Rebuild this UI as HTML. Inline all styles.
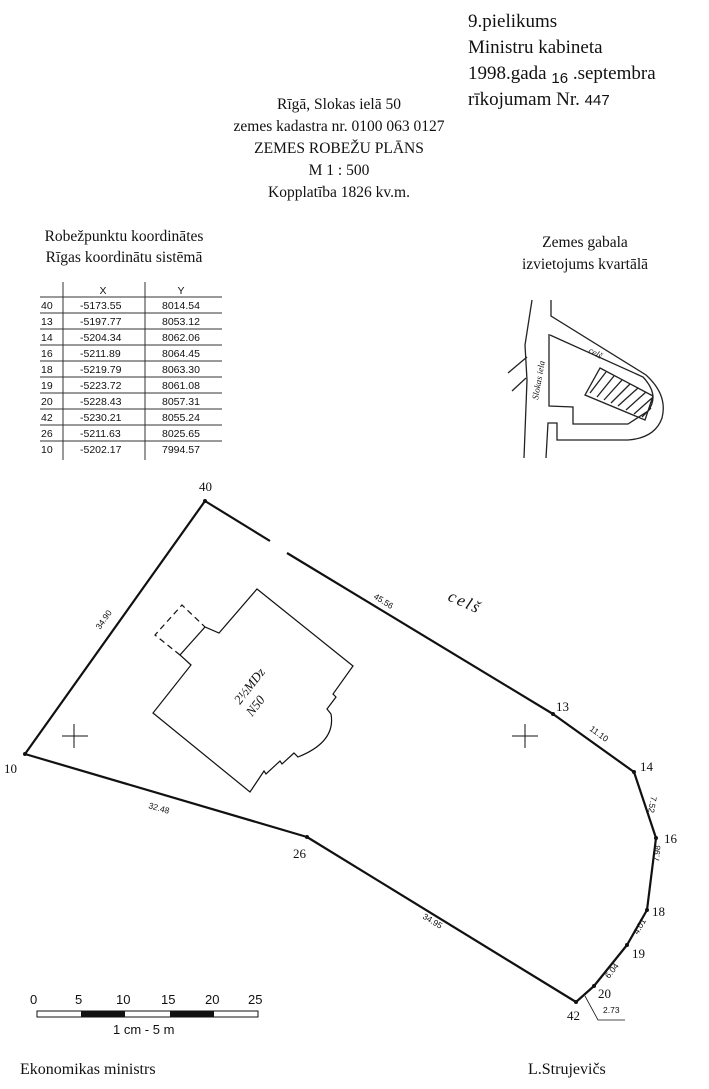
<!DOCTYPE html>
<html><head><meta charset="utf-8"><style>
html,body{margin:0;padding:0;background:#fff;}
svg{display:block;}
.s{font-family:"Liberation Serif",serif;fill:#111;}
.a{font-family:"Liberation Sans",sans-serif;fill:#111;}
</style></head><body>
<svg width="709" height="1089" viewBox="0 0 709 1089" xmlns="http://www.w3.org/2000/svg">
<g class="s" font-size="19">
<text x="468" y="27">9.pielikums</text>
<text x="468" y="53">Ministru kabineta</text>
<text x="468" y="79">1998.gada <tspan class="a" font-size="15" dy="4">16</tspan><tspan dy="-4"> .septembra</tspan></text>
<text x="468" y="105">rīkojumam Nr. <tspan class="a" font-size="15">447</tspan></text>
</g>
<g class="s" font-size="15.5" text-anchor="middle">
<text x="339" y="109">Rīgā, Slokas ielā 50</text>
<text x="339" y="131">zemes kadastra nr. 0100 063 0127</text>
<text x="339" y="153">ZEMES ROBEŽU PLĀNS</text>
<text x="339" y="175">M 1 : 500</text>
<text x="339" y="197">Kopplatība 1826 kv.m.</text>
<text x="124" y="241">Robežpunktu koordinātes</text>
<text x="124" y="262">Rīgas koordinātu sistēmā</text>
<text x="585" y="247">Zemes gabala</text>
<text x="585" y="269">izvietojums kvartālā</text>
</g>
<g stroke="#333" stroke-width="1" fill="none">
<line x1="63" y1="282" x2="63" y2="460"/>
<line x1="145" y1="282" x2="145" y2="460"/>
<line x1="40" y1="297" x2="222" y2="297"/>
<line x1="40" y1="313" x2="222" y2="313"/>
<line x1="40" y1="329" x2="222" y2="329"/>
<line x1="40" y1="345" x2="222" y2="345"/>
<line x1="40" y1="361" x2="222" y2="361"/>
<line x1="40" y1="377" x2="222" y2="377"/>
<line x1="40" y1="393" x2="222" y2="393"/>
<line x1="40" y1="409" x2="222" y2="409"/>
<line x1="40" y1="425" x2="222" y2="425"/>
<line x1="40" y1="441" x2="222" y2="441"/>
</g>
<g class="a" font-size="10.5">
<text x="103" y="294" text-anchor="middle">X</text><text x="181" y="294" text-anchor="middle">Y</text>
<text x="41" y="309">40</text><text x="80" y="309">-5173.55</text><text x="162" y="309">8014.54</text>
<text x="41" y="325">13</text><text x="80" y="325">-5197.77</text><text x="162" y="325">8053.12</text>
<text x="41" y="341">14</text><text x="80" y="341">-5204.34</text><text x="162" y="341">8062.06</text>
<text x="41" y="357">16</text><text x="80" y="357">-5211.89</text><text x="162" y="357">8064.45</text>
<text x="41" y="373">18</text><text x="80" y="373">-5219.79</text><text x="162" y="373">8063.30</text>
<text x="41" y="389">19</text><text x="80" y="389">-5223.72</text><text x="162" y="389">8061.08</text>
<text x="41" y="405">20</text><text x="80" y="405">-5228.43</text><text x="162" y="405">8057.31</text>
<text x="41" y="421">42</text><text x="80" y="421">-5230.21</text><text x="162" y="421">8055.24</text>
<text x="41" y="437">26</text><text x="80" y="437">-5211.63</text><text x="162" y="437">8025.65</text>
<text x="41" y="453">10</text><text x="80" y="453">-5202.17</text><text x="162" y="453">7994.57</text>
</g>
<g stroke="#222" stroke-width="1.3" fill="none">
<path d="M532,300 L525,345 L527,380 L524,458"/>
<path d="M551,300 L551,316 L646,375 Q668,395 662,418 Q655,438 628,440 L557,440 L557,423 L548,423 L546,458"/>
<path d="M508,373 L527,357"/>
<path d="M512,391 L526,378"/>
<path d="M549,334 L549,406 L573,407 L573,424 L628,424 L648,411 Q660,395 643,377 L550,335"/>
<path d="M600,368 L653,396 L645,420 L585,395 Z"/>
<path d="M606,372 L590,393 M614,376 L597,397 M622,380 L604,400 M630,384 L611,403 M638,388 L618,406 M646,392 L626,410 M652,398 L634,414 M651,408 L642,417"/>
</g>
<text class="s" font-size="9" font-style="italic" transform="translate(588,352) rotate(30)">celš</text>
<text class="s" font-size="9" font-style="italic" transform="translate(538,400) rotate(-80)">Slokas iela</text>
<g stroke="#111" stroke-width="2.2" fill="none" stroke-linejoin="round">
<path d="M270,541 L205,501 L25,754 L307,837 L576,1002 L594,986 L627,945 L647,910 L656,838 L634,772 L553,714 L287,553"/>
</g>
<g fill="#111"><circle cx="205" cy="501" r="2"/><circle cx="25" cy="754" r="2"/><circle cx="307" cy="837" r="2"/><circle cx="576" cy="1002" r="2"/><circle cx="594" cy="986" r="2"/><circle cx="627" cy="945" r="2"/><circle cx="647" cy="910" r="2"/><circle cx="656" cy="838" r="2"/><circle cx="634" cy="772" r="2"/><circle cx="553" cy="714" r="2"/></g>
<g stroke="#111" stroke-width="1.2" fill="none">
<path d="M257,589 L353,666 L333,694 L336,697 L327,709 L331,714 Q336,742 298,757 L294,753 L282,764 L280,761 L266,774 L264,771 L250,792 L153,713 L191,665 L180,655 L205,627 L219,633 Z"/>
<path d="M180,655 L155,635 L182,605 L205,627" stroke-dasharray="6,4"/>
</g>
<text class="s" font-size="13" font-style="italic" transform="translate(240,705) rotate(-52)">2½MDz</text>
<text class="s" font-size="13" font-style="italic" transform="translate(252,717) rotate(-52)">N50</text>
<g stroke="#111" stroke-width="1"><line x1="62" y1="736" x2="88" y2="736"/><line x1="74" y1="724" x2="74" y2="748"/><line x1="512" y1="736" x2="538" y2="736"/><line x1="525" y1="724" x2="525" y2="748"/></g>
<g class="s" font-size="13">
<text x="199" y="491">40</text><text x="4" y="773">10</text><text x="293" y="858">26</text>
<text x="556" y="711">13</text><text x="640" y="771">14</text><text x="664" y="843">16</text>
<text x="652" y="916">18</text><text x="632" y="958">19</text><text x="598" y="998">20</text><text x="567" y="1020">42</text>
</g>
<g class="a" font-size="8.5">
<text transform="translate(100,630) rotate(-55)">34.90</text>
<text transform="translate(373,598) rotate(32)">45.56</text>
<text transform="translate(148,808) rotate(16)">32.48</text>
<text transform="translate(422,918) rotate(31)">34.95</text>
<text transform="translate(589,730) rotate(36)">11.10</text>
<text transform="translate(651,796) rotate(100)">7.52</text>
<text transform="translate(659,862) rotate(-85)">7.98</text>
<text transform="translate(638,935) rotate(-60)">4.01</text>
<text transform="translate(609,979) rotate(-52)">6.04</text>
<text x="603" y="1013">2.73</text>
</g>
<path d="M585,996 L598,1020 L625,1020" stroke="#111" stroke-width="0.8" fill="none"/>
<text class="s" font-size="17" font-style="italic" transform="translate(447,600) rotate(24)" letter-spacing="2">celš</text>
<g class="a" font-size="13">
<text x="30" y="1004">0</text><text x="75" y="1004">5</text><text x="116" y="1004">10</text><text x="161" y="1004">15</text><text x="205" y="1004">20</text><text x="248" y="1004">25</text>
<text x="113" y="1034">1 cm - 5 m</text>
</g>
<rect x="37" y="1011" width="221" height="6" fill="#fff" stroke="#111" stroke-width="1"/>
<rect x="81" y="1011" width="44" height="6" fill="#111"/>
<rect x="170" y="1011" width="44" height="6" fill="#111"/>
<g class="s" font-size="16">
<text x="20" y="1074">Ekonomikas ministrs</text>
<text x="528" y="1074">L.Strujevičs</text>
</g>
</svg>
</body></html>
